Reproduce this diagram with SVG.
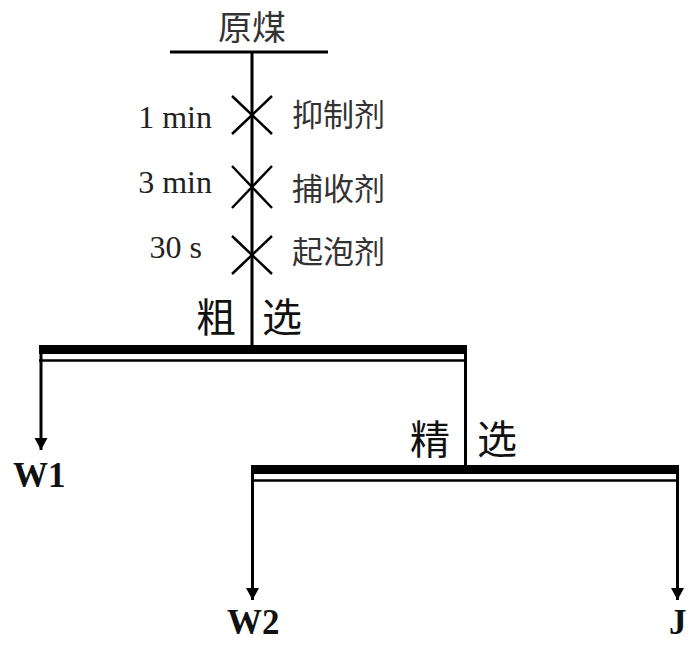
<svg xmlns="http://www.w3.org/2000/svg" width="700" height="655" viewBox="0 0 700 655">
<style>
.ln{stroke:#000;stroke-width:3;fill:none}
.x{stroke:#000;stroke-width:2.5;fill:none}
.thin{stroke:#000;stroke-width:2.5}
.lat{font-family:"Liberation Serif","Times New Roman",serif;font-size:32px;fill:#222}
.cjk{font-family:"Noto Sans CJK SC","Noto Sans CJK JP",sans-serif;font-size:31px;fill:#333}
.big{font-family:"Noto Sans CJK SC","Noto Sans CJK JP",sans-serif;font-size:40px;fill:#111}
.out{font-family:"Liberation Serif","Times New Roman",serif;font-size:35px;font-weight:bold;fill:#111}
</style>
<defs>
<marker id="ah" markerUnits="userSpaceOnUse" markerWidth="14" markerHeight="14" viewBox="0 0 14 14" refX="13" refY="7" orient="auto">
<path d="M1,0.5 L13,7 L1,13.5 Z" fill="#000"/>
</marker>
</defs>
<rect width="700" height="655" fill="#fff"/>
<g id="feed">
<line class="ln" x1="170" y1="52" x2="328" y2="52"/>
<text class="cjk" x="252" y="40" text-anchor="middle" style="font-size:34px">原煤</text>
</g>
<g id="reagents">
<path class="x" d="M232,96 L272,134 M272,96 L232,134"/>
<path class="x" d="M232,166 L272,208 M272,166 L232,208"/>
<path class="x" d="M232,236 L272,274 M272,236 L232,274"/>
<text class="lat" x="212" y="128" text-anchor="end" xml:space="preserve">1 min</text>
<text class="lat" x="212" y="193" text-anchor="end" xml:space="preserve">3 min</text>
<text class="lat" x="202" y="258" text-anchor="end" xml:space="preserve">30 s</text>
<text class="cjk" x="292" y="126">抑制剂</text>
<text class="cjk" x="292" y="200">捕收剂</text>
<text class="cjk" x="292" y="263">起泡剂</text>
</g>
<g id="rougher">
<rect x="39" y="345" width="428" height="9" fill="#000"/>
<line class="thin" x1="39" y1="360.5" x2="467" y2="360.5"/>
<text class="big" x="196" y="332">粗</text>
<text class="big" x="262" y="332">选</text>
</g>
<g id="cleaner">
<rect x="251" y="465" width="428" height="9" fill="#000"/>
<line class="thin" x1="251" y1="480.5" x2="679" y2="480.5"/>
<text class="big" x="410" y="454">精</text>
<text class="big" x="477" y="454">选</text>
</g>
<g id="W1"><text class="out" x="13" y="487">W1</text></g>
<g id="W2"><text class="out" x="227" y="634">W2</text></g>
<g id="J"><text class="out" x="669" y="634">J</text></g>
<g id="connectors">
<line class="ln" x1="252" y1="52" x2="252" y2="346"/>
<line class="ln" x1="41" y1="350" x2="41" y2="450" marker-end="url(#ah)"/>
<line class="ln" x1="465.5" y1="350" x2="465.5" y2="466"/>
<line class="ln" x1="252.5" y1="470" x2="252.5" y2="600" marker-end="url(#ah)"/>
<line class="ln" x1="677.5" y1="470" x2="677.5" y2="600" marker-end="url(#ah)"/>
</g>
</svg>
